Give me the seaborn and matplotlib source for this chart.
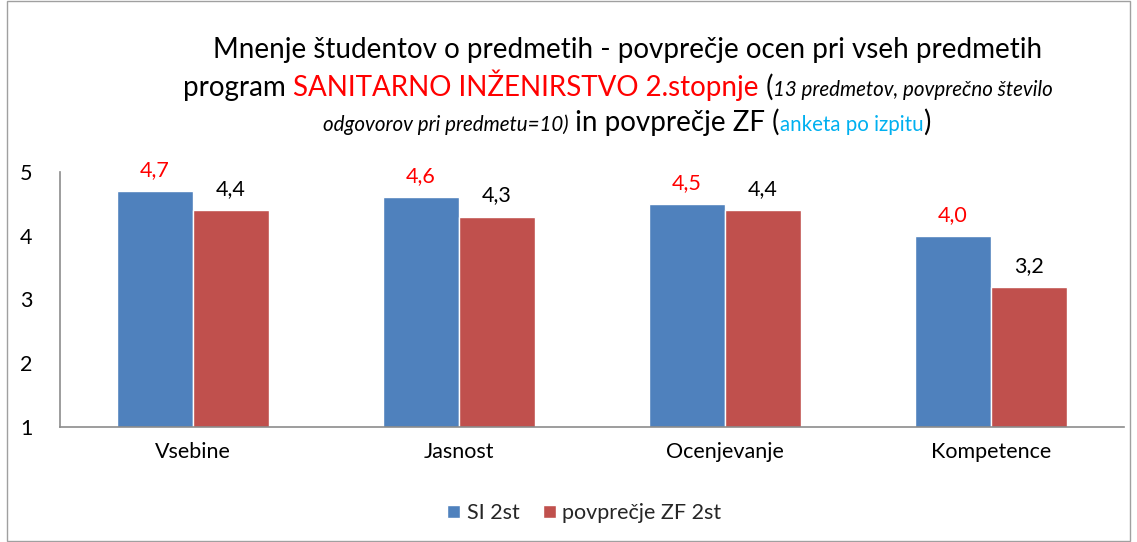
import numpy as np
import pandas as pd
import seaborn as sns
import matplotlib.pyplot as plt
from matplotlib.patches import Rectangle

# data
categories = ["Vsebine", "Jasnost", "Ocenjevanje", "Kompetence"]
si_2st = [4.7, 4.6, 4.5, 4.0]
zf_2st = [4.4, 4.3, 4.4, 3.2]
series = ["SI 2st", "povprečje ZF 2st"]
yticks = [1, 2, 3, 4, 5]

df = pd.DataFrame({
    "kategorija": categories * 2,
    "ocena": si_2st + zf_2st,
    "serija": [series[0]] * 4 + [series[1]] * 4,
})

sns.set_theme(style="white")
plt.rcParams['font.family'] = ['Lato', 'DejaVu Sans']

fig = plt.figure(figsize=(11.37, 5.42), dpi=100)
ax = fig.add_axes([60 / 1137, 1 - 427 / 542, 1064 / 1137, 255 / 542])

palette = {series[0]: "#4F81BD", series[1]: "#C0504D"}
sns.barplot(data=df, x="kategorija", y="ocena", hue="serija", palette=palette,
            width=0.57, ax=ax, saturation=1)

fs = 15.5
ax.set_ylim(1, 5)
ax.set_yticks(yticks)
ax.set_xlabel("")
ax.set_ylabel("")
ax.tick_params(axis="both", length=0, labelsize=fs, colors="black")
ax.tick_params(axis="y", pad=20)
ax.tick_params(axis="x", pad=11)
for s in ["top", "right"]:
    ax.spines[s].set_visible(False)
for s in ["left", "bottom"]:
    ax.spines[s].set_color("#8c8c8c")
    ax.spines[s].set_linewidth(1.2)

# value labels
for cont, col in zip(ax.containers, ["red", "black"]):
    labels = [f"{b.get_height():.1f}".replace(".", ",") for b in cont]
    ax.bar_label(cont, labels=labels, padding=8, color=col, fontsize=fs)

# legend at bottom
handles, labs = ax.get_legend_handles_labels()
ax.legend(handles, labs, loc="center", bbox_to_anchor=(0.514, 1 - 513 / 542),
          bbox_transform=fig.transFigure, ncol=2, frameon=False, fontsize=fs,
          handlelength=0.6, handleheight=0.6, handletextpad=0.3, columnspacing=1.1)

# figure border
fig.patches.append(Rectangle((7 / 1137, 0.002), 1 - 14 / 1137, 0.996, transform=fig.transFigure,
                             fill=False, edgecolor="#a0a0a0", linewidth=1.0))

# title built from coloured pieces, each line centred
big, small = 20, 14.8
title_lines = [
    [("Mnenje študentov o predmetih - povprečje ocen pri vseh predmetih", "black", "normal", big)],
    [("program ", "black", "normal", big),
     ("SANITARNO INŽENIRSTVO 2.stopnje", "red", "normal", big),
     (" (", "black", "normal", big),
     ("13 predmetov, povprečno število", "black", "italic", small)],
    [("odgovorov pri predmetu=10)", "black", "italic", small),
     (" in povprečje ZF (", "black", "normal", big),
     ("anketa po izpitu", "#00B0F0", "normal", small),
     (")", "black", "normal", big)],
]
line_y = [1 - 58 / 542, 1 - 96 / 542, 1 - 131 / 542]
line_cx = [628 / 1137, 618 / 1137, 627 / 1137]

renderer = fig.canvas.get_renderer()
for pieces, y, cx in zip(title_lines, line_y, line_cx):
    texts = []
    x = 0
    for txt, col, sty, size in pieces:
        t = fig.text(x, y, txt, color=col, style=sty, fontsize=size, va="baseline", ha="left")
        w = t.get_window_extent(renderer).width / fig.bbox.width
        texts.append((t, w))
        x += w
    start = cx - x / 2
    for t, w in texts:
        t.set_x(start)
        start += w

fig.savefig("out.png", dpi=100)
